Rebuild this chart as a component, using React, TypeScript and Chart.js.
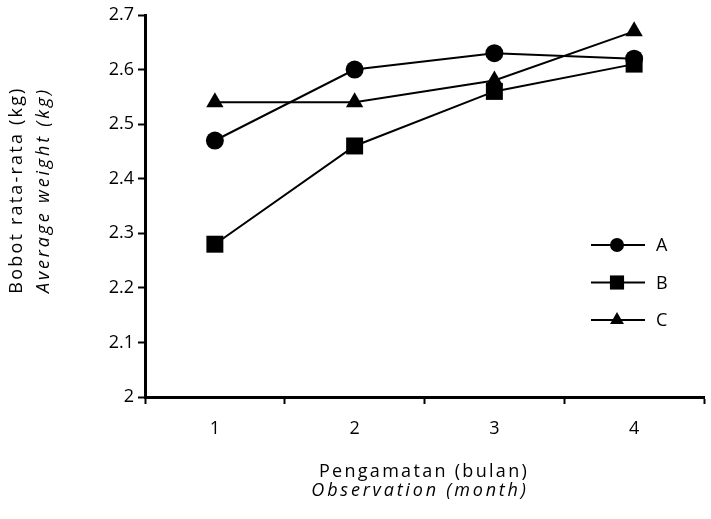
import React, { useEffect, useRef } from "react";
import { Chart, registerables } from "chart.js";
import { drawPoint } from "chart.js/helpers";

Chart.register(...registerables);

const categories = ["1", "2", "3", "4"];
const seriesNames = ["A", "B", "C"];
const seriesA = [2.47, 2.6, 2.63, 2.62];
const seriesB = [2.28, 2.46, 2.56, 2.61];
const seriesC = [2.54, 2.54, 2.58, 2.67];
const yTitle = ["Bobot rata-rata (kg)", "Average weight (kg)"];
const xTitle = ["Pengamatan (bulan)", "Observation (month)"];

const FONT = "'Open Sans', 'DejaVu Sans', sans-serif";
const styles = ["circle", "rect", "triangle"];
const radii = [9, 12, 10];
const legendRadii = [7, 10, 8];

export default function App() {
  const ref = useRef<HTMLCanvasElement>(null);
  useEffect(() => {
    if (!ref.current) return;
    const titlesPlugin = {
      id: "titles",
      afterDraw(chart: any) {
        const ctx = chart.ctx;
        ctx.save();
        ctx.fillStyle = "#000";
        ctx.textAlign = "center";
        ctx.textBaseline = "middle";
        // x title
        ctx.font = `18px ${FONT}`;
        ctx.letterSpacing = "2.3px";
        ctx.fillText(xTitle[0], 424, 472);
        ctx.font = `italic 18px ${FONT}`;
        ctx.letterSpacing = "2.8px";
        ctx.fillText(xTitle[1], 420, 491);
        // y title
        ctx.translate(0, 190);
        ctx.rotate(-Math.PI / 2);
        ctx.font = `18px ${FONT}`;
        ctx.letterSpacing = "2.2px";
        ctx.fillText(yTitle[0], 0, 17);
        ctx.font = `italic 18px ${FONT}`;
        ctx.letterSpacing = "2.8px";
        ctx.fillText(yTitle[1], 0, 44);
        ctx.restore();

        // legend
        ctx.save();
        chart.data.datasets.forEach((ds: any, i: number) => {
          const y = 245 + 37.5 * i;
          ctx.strokeStyle = "#000";
          ctx.lineWidth = 2;
          ctx.beginPath();
          ctx.moveTo(591, y);
          ctx.lineTo(645, y);
          ctx.stroke();
          ctx.fillStyle = "#000";
          drawPoint(ctx, { pointStyle: styles[i], radius: legendRadii[i], rotation: 0, borderWidth: 0 } as any, 617, y);
          ctx.fillStyle = "#000";
          ctx.font = `18px ${FONT}`;
          ctx.textAlign = "left";
          ctx.textBaseline = "middle";
          ctx.fillText(ds.label, 656, y + 1);
        });
        ctx.restore();
      },
    };

    const mk = (label: string, data: number[], i: number) => ({
      label,
      data,
      borderColor: "#000",
      backgroundColor: "#000",
      borderWidth: 2,
      pointStyle: styles[i],
      pointRadius: radii[i],
      pointBorderWidth: 0,
      pointBackgroundColor: "#000",
      tension: 0,
    });

    const chart = new Chart(ref.current, {
      type: "line",
      data: {
        labels: categories,
        datasets: [
          mk(seriesNames[0], seriesA, 0),
          mk(seriesNames[1], seriesB, 1),
          mk(seriesNames[2], seriesC, 2),
        ],
      },
      options: {
        responsive: false,
        animation: false,
        events: [],
        layout: { padding: { top: 15, right: 0, bottom: 0, left: 0 } },
        plugins: { legend: { display: false }, tooltip: { enabled: false } },
        scales: {
          x: {
            type: "category",
            offset: true,
            border: { display: true, color: "#000", width: 3 },
            grid: {
              offset: true,
              drawOnChartArea: false,
              drawTicks: true,
              tickLength: 7,
              tickWidth: 2,
              tickColor: "#000",
            },
            ticks: { color: "#000", font: { family: FONT, size: 18 }, padding: 14, maxRotation: 0 },
            afterFit(scale: any) {
              scale.height = 122;
            },
          },
          y: {
            min: 2,
            max: 2.7,
            border: { display: true, color: "#000", width: 3 },
            grid: {
              drawOnChartArea: false,
              drawTicks: true,
              tickLength: 7,
              tickWidth: 2,
              tickColor: "#000",
            },
            ticks: {
              stepSize: 0.1,
              color: "#000",
              font: { family: FONT, size: 18 },
              padding: 4,
              callback: (v: any) => {
                const n = Math.round(Number(v) * 10) / 10;
                return n === 2 ? "2" : n.toFixed(1);
              },
            },
            afterFit(scale: any) {
              scale.width = 145;
            },
          },
        },
      },
      plugins: [titlesPlugin],
    });
    return () => chart.destroy();
  }, []);
  return (
    <div style={{ position: "absolute", left: 0, top: 0, width: 711, height: 519, overflow: "hidden", background: "#fff" }}>
      <canvas ref={ref} width={716} height={519} style={{ display: "block" }} />
    </div>
  );
}
